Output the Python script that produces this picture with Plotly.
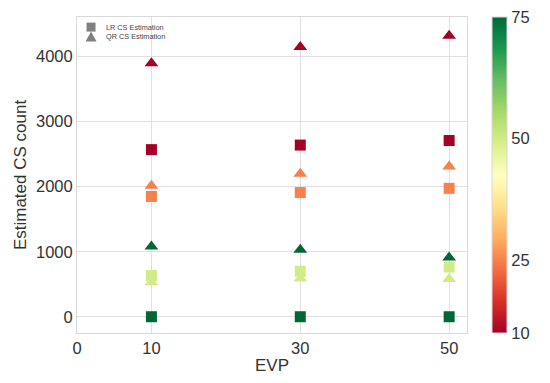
import plotly.graph_objects as go

evp = [10, 30, 50]
levels = [10, 25, 50, 75]
# LR (squares) estimates per level, per EVP
lr_values = {
    10: [2570, 2640, 2710],
    25: [1850, 1910, 1975],
    50: [635, 700, 765],
    75: [0, 0, 0],
}
# QR (triangles) estimates per level, per EVP
qr_values = {
    10: [3900, 4150, 4320],
    25: [2015, 2200, 2310],
    50: [530, 590, 580],
    75: [1080, 1030, 910],
}
legend_labels = ["LR CS Estimation", "QR CS Estimation"]
colorbar_ticks = [10, 25, 50, 75]
x_ticks = [0, 10, 30, 50]
y_ticks = [0, 1000, 2000, 3000, 4000]

FONT = "Liberation Sans"

def flatten(d):
    xs, ys, cs = [], [], []
    for lv in levels:
        for xv, yv in zip(evp, d[lv]):
            xs.append(xv); ys.append(yv); cs.append(lv)
    return xs, ys, cs

fig = go.Figure()

qx, qy, qc = flatten(qr_values)
fig.add_trace(go.Scatter(
    x=qx, y=qy, mode="markers", showlegend=False,
    marker=dict(symbol="triangle-up", size=12, color=qc, colorscale="RdYlGn",
                cmin=10, cmax=75, line=dict(width=0)),
))
lx, ly, lc = flatten(lr_values)
fig.add_trace(go.Scatter(
    x=lx, y=ly, mode="markers", showlegend=False,
    marker=dict(symbol="square", size=11, color=lc, colorscale="RdYlGn",
                cmin=10, cmax=75, line=dict(width=0),
                colorbar=dict(
                    tickvals=colorbar_ticks, ticktext=[str(t) for t in colorbar_ticks],
                    thickness=15, len=1.0, lenmode="fraction", y=0.5, yanchor="middle",
                    x=1.064, xanchor="left", xpad=0, ypad=0,
                    outlinewidth=1, outlinecolor="#d9d9d9", ticks="",
                    ticklabeloverflow="allow",
                    tickfont=dict(family=FONT, size=16.5, color="#333333"),
                )),
))

# legend: grey key symbols (pixel-sized shapes) + two-line text
LEG_X = 0.036
ROW_Y = [0.968, 0.937]
fig.add_shape(type="rect", xref="paper", yref="paper", xsizemode="pixel", ysizemode="pixel",
              xanchor=LEG_X, yanchor=ROW_Y[0], x0=-4.5, x1=4.5, y0=-4.5, y1=4.5,
              fillcolor="#808080", line=dict(width=0))
fig.add_shape(type="path", xref="paper", yref="paper", xsizemode="pixel", ysizemode="pixel",
              xanchor=LEG_X, yanchor=ROW_Y[1], path="M -5.5,-4.5 L 5.5,-4.5 L 0,5.5 Z",
              fillcolor="#808080", line=dict(width=0))
fig.add_annotation(xref="paper", yref="paper", x=0.069, y=0.986,
                   text="<br>".join(legend_labels),
                   showarrow=False, align="left", xanchor="left", yanchor="top",
                   font=dict(size=7.3, color="#444444"))

fig.update_layout(
    width=550, height=383,
    margin=dict(l=69, r=91, t=9, b=58),
    paper_bgcolor="white", plot_bgcolor="white",
    font=dict(family=FONT, color="#333333"),
    showlegend=False,
    xaxis=dict(range=[0, 52.4], tickvals=x_ticks, ticktext=[str(t) for t in x_ticks],
               showgrid=True, gridcolor="#e0e0e0", gridwidth=1, zeroline=False,
               showline=True, linecolor="#d9d9d9", mirror=True, automargin=False,
               tickfont=dict(size=16.5), ticks="",
               title=dict(text="EVP", font=dict(size=17), standoff=3)),
    yaxis=dict(range=[-250, 4610], tickvals=y_ticks, ticktext=[str(t) for t in y_ticks],
               showgrid=True, gridcolor="#e0e0e0", gridwidth=1, zeroline=False,
               showline=True, linecolor="#d9d9d9", mirror=True, automargin=False,
               tickfont=dict(size=16.5), ticks="",
               title=dict(text="Estimated CS count", font=dict(size=17), standoff=5)),
)

fig.write_html("out.html")
